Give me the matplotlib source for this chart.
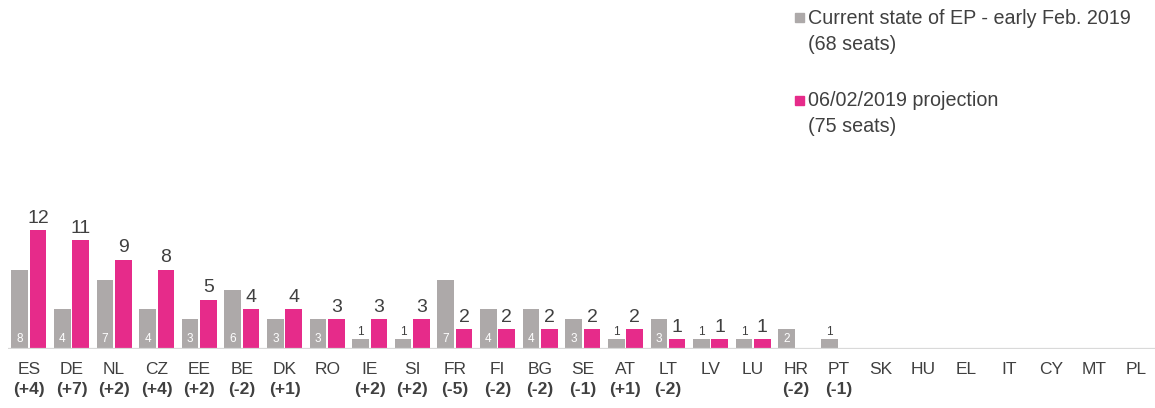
import numpy as np
import matplotlib.pyplot as plt

countries = ['ES', 'DE', 'NL', 'CZ', 'EE', 'BE', 'DK', 'RO', 'IE', 'SI', 'FR', 'FI', 'BG', 'SE',
             'AT', 'LT', 'LV', 'LU', 'HR', 'PT', 'SK', 'HU', 'EL', 'IT', 'CY', 'MT', 'PL']
current = [8, 4, 7, 4, 3, 6, 3, 3, 1, 1, 7, 4, 4, 3, 1, 3, 1, 1, 2, 1, 0, 0, 0, 0, 0, 0, 0]
projection = [12, 11, 9, 8, 5, 4, 4, 3, 3, 3, 2, 2, 2, 2, 2, 1, 1, 1, 0, 0, 0, 0, 0, 0, 0, 0, 0]
changes = ['(+4)', '(+7)', '(+2)', '(+4)', '(+2)', '(-2)', '(+1)', '', '(+2)', '(+2)', '(-5)',
           '(-2)', '(-2)', '(-1)', '(+1)', '(-2)', '', '', '(-2)', '(-1)', '', '', '', '', '', '', '']

grey = '#ADA9A9'
pink = '#E62B8A'
dark = '#404040'

plt.rcParams['font.family'] = ['Liberation Sans', 'DejaVu Sans']

W, H = 1155, 408
fig = plt.figure(figsize=(W / 100, H / 100), dpi=100, facecolor='white')
ax = fig.add_axes([8 / W, 1 - 349 / H, (W - 8) / W, 0.5])
px_per_unit = 9.9
ax.set_ylim(0, 0.5 * H / px_per_unit)
ax.set_xlim(-0.49, 26.43)

x = np.arange(len(countries))
w = 0.39
off = 0.215
ax.bar(x - off, current, w, color=grey, zorder=2)
ax.bar(x + off, projection, w, color=pink, zorder=2)

# value labels
for i, (c, p) in enumerate(zip(current, projection)):
    if c >= 2:
        ax.text(i - off, 0.45, str(c), ha='center', va='bottom', color='white', fontsize=8.5)
    elif c == 1:
        ax.text(i - off, c + 0.15, str(c), ha='center', va='bottom', color=dark, fontsize=8.5)
    if p > 0:
        ax.text(i + off, p + 0.35, str(p), ha='center', va='bottom', color=dark, fontsize=14)

for s in ax.spines.values():
    s.set_visible(False)
ax.axhline(0, color='#D9D9D9', lw=1.6, zorder=3)
ax.set_yticks([])
ax.set_xticks([])

# category labels
for i, (name, ch) in enumerate(zip(countries, changes)):
    ax.annotate(name, (i, 0), xytext=(0, -9), textcoords='offset points', ha='center',
                va='top', fontsize=12.5, color=dark, annotation_clip=False)
    if ch:
        ax.annotate(ch, (i, 0), xytext=(0, -24), textcoords='offset points', ha='center',
                    va='top', fontsize=12.5, fontweight='bold', color=dark, annotation_clip=False)

# legend
legend_items = [(grey, ['Current state of EP - early Feb. 2019', '(68 seats)'], 18),
                (pink, ['06/02/2019 projection', '(75 seats)'], 101)]
for color, lines, y0 in legend_items:
    fig.patches.append(plt.Rectangle((795 / W, 1 - (y0 + 4) / H), 9 / W, 9 / H, color=color,
                                     transform=fig.transFigure, figure=fig))
    for k, line in enumerate(lines):
        fig.text(808 / W, 1 - (y0 + 26 * k) / H, line, ha='left', va='center',
                 fontsize=14.2, color=dark)

fig.savefig('out.png', dpi=100)
